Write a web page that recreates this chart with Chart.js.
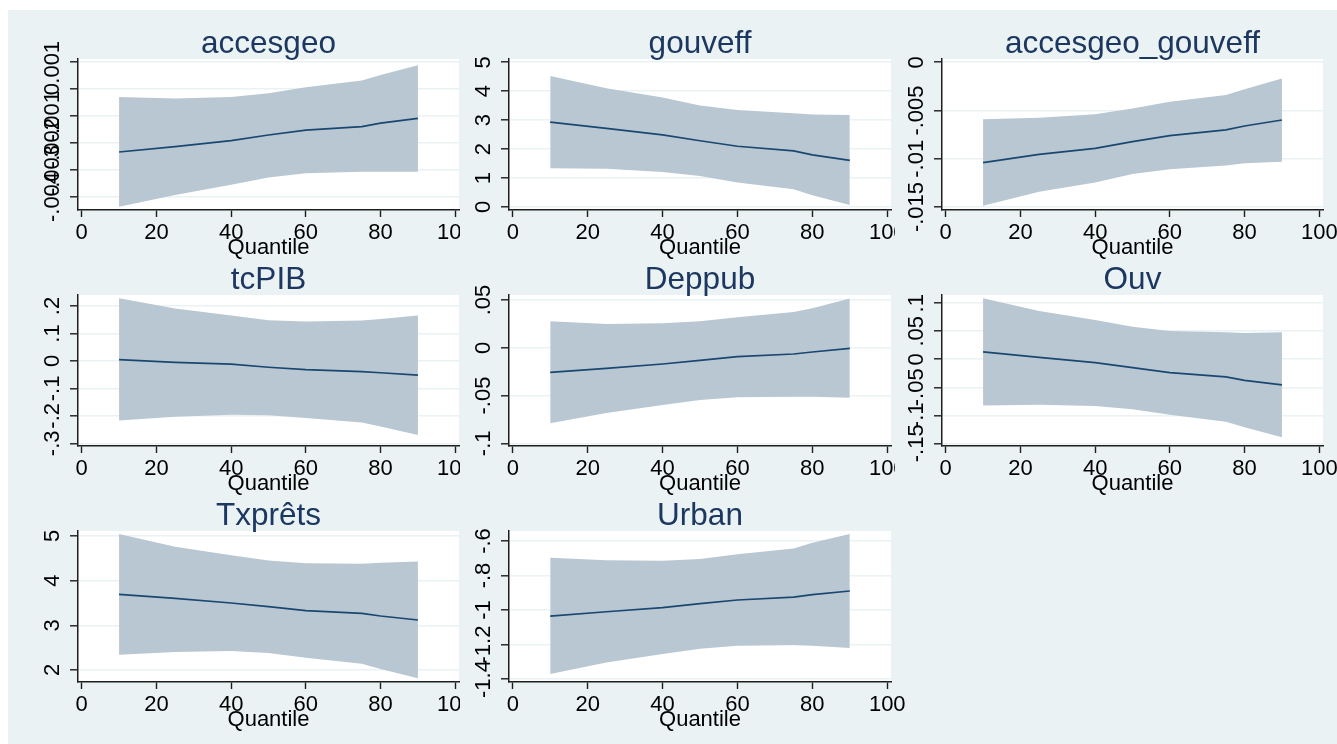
<!DOCTYPE html>
<html>
<head>
<meta charset="utf-8">
<title>Quantile coefficients</title>
<script src="https://cdn.jsdelivr.net/npm/chart.js@4/dist/chart.umd.min.js"></script>
<style>
  html, body { margin: 0; padding: 0; background: #ffffff; }
  #figure { position: absolute; left: 8px; top: 10px; width: 1329px; height: 734px; background: #eaf2f3; }
  canvas.panel { position: absolute; background: #eaf2f3; }
</style>
</head>
<body>
<div id="figure"></div>
<script>
// Quantiles at which each coefficient was estimated
const quantiles = [10, 25, 40, 50, 60, 75, 80, 90];
const quantileTicks = [0, 20, 40, 60, 80, 100];

// accesgeo
const accesgeoCoef = [-0.00233, -0.00213, -0.00191, -0.00170, -0.00152, -0.00139, -0.00126, -0.00108];
const accesgeoLow  = [-0.00436, -0.00393, -0.00355, -0.00328, -0.00312, -0.00306, -0.00306, -0.00306];
const accesgeoHigh = [-0.00029, -0.00034, -0.00029, -0.00015, 0.00007, 0.00032, 0.00053, 0.00089];
const accesgeoTicks = [-0.004, -0.003, -0.002, -0.001, 0, 0.001];
const accesgeoTickLabels = ['-.004', '-.003', '-.002', '-.001', '0', '.001'];

// gouveff
const gouveffCoef = [2.93, 2.72, 2.49, 2.29, 2.10, 1.94, 1.80, 1.61];
const gouveffLow  = [1.34, 1.32, 1.21, 1.07, 0.85, 0.61, 0.41, 0.07];
const gouveffHigh = [4.53, 4.10, 3.78, 3.51, 3.35, 3.24, 3.20, 3.18];
const gouveffTicks = [0, 1, 2, 3, 4, 5];
const gouveffTickLabels = ['0', '1', '2', '3', '4', '5'];

// accesgeo_gouveff
const interCoef = [-0.0104, -0.00954, -0.00892, -0.00822, -0.0076, -0.00701, -0.0066, -0.00598];
const interLow  = [-0.01486, -0.01341, -0.01247, -0.01158, -0.01109, -0.01071, -0.01047, -0.0103];
const interHigh = [-0.00591, -0.00574, -0.00539, -0.0048, -0.00408, -0.00339, -0.0028, -0.00169];
const interTicks = [-0.015, -0.01, -0.005, 0];
const interTickLabels = ['-.015', '-.01', '-.005', '0'];

// tcPIB
const tcpibCoef = [0.005, -0.005, -0.012, -0.023, -0.032, -0.039, -0.043, -0.052];
const tcpibLow  = [-0.217, -0.203, -0.196, -0.198, -0.208, -0.224, -0.239, -0.270];
const tcpibHigh = [0.228, 0.191, 0.165, 0.148, 0.144, 0.147, 0.153, 0.165];
const tcpibTicks = [-0.3, -0.2, -0.1, 0, 0.1, 0.2];
const tcpibTickLabels = ['-.3', '-.2', '-.1', '0', '.1', '.2'];

// Deppub
const deppubCoef = [-0.0257, -0.0215, -0.0170, -0.0132, -0.0093, -0.0065, -0.0044, -0.0006];
const deppubLow  = [-0.0791, -0.0683, -0.0599, -0.0547, -0.0519, -0.0512, -0.0512, -0.0522];
const deppubHigh = [0.0277, 0.0249, 0.0256, 0.0277, 0.0319, 0.0374, 0.0413, 0.0517];
const deppubTicks = [-0.1, -0.05, 0, 0.05];
const deppubTickLabels = ['-.1', '-.05', '0', '.05'];

// Ouv
const ouvCoef = [0.0131, 0.0036, -0.0060, -0.0149, -0.0238, -0.0315, -0.0375, -0.0458];
const ouvLow  = [-0.0827, -0.0810, -0.0833, -0.0893, -0.0988, -0.1113, -0.1214, -0.1393];
const ouvHigh = [0.1089, 0.0863, 0.0702, 0.0583, 0.0506, 0.0482, 0.0470, 0.0482];
const ouvTicks = [-0.15, -0.1, -0.05, 0, 0.05, 0.1];
const ouvTickLabels = ['-.15', '-.1', '-.05', '0', '.05', '.1'];

// Txprêts
const txpretsCoef = [3.694, 3.604, 3.500, 3.418, 3.328, 3.269, 3.209, 3.119];
const txpretsLow  = [2.343, 2.403, 2.425, 2.380, 2.276, 2.142, 2.022, 1.813];
const txpretsHigh = [5.045, 4.760, 4.570, 4.450, 4.390, 4.380, 4.400, 4.430];
const txpretsTicks = [2, 3, 4, 5];
const txpretsTickLabels = ['2', '3', '4', '5'];

// Urban
const urbanCoef = [-1.035, -1.010, -0.986, -0.963, -0.942, -0.925, -0.911, -0.890];
const urbanLow  = [-1.371, -1.305, -1.255, -1.224, -1.207, -1.203, -1.207, -1.220];
const urbanHigh = [-0.697, -0.712, -0.714, -0.704, -0.677, -0.644, -0.610, -0.559];
const urbanTicks = [-1.4, -1.2, -1, -0.8, -0.6];
const urbanTickLabels = ['-1.4', '-1.2', '-1', '-.8', '-.6'];

// Panels: grid cell plus y-axis range for each variable
const panels = [
  { title: 'accesgeo', coef: accesgeoCoef, low: accesgeoLow, high: accesgeoHigh, ticks: accesgeoTicks, labels: accesgeoTickLabels, yMin: -0.004483, yMax: 0.0011225, row: 0, col: 0 },
  { title: 'gouveff', coef: gouveffCoef, low: gouveffLow, high: gouveffHigh, ticks: gouveffTicks, labels: gouveffTickLabels, yMin: -0.1037, yMax: 5.114, row: 0, col: 1 },
  { title: 'accesgeo_gouveff', coef: interCoef, low: interLow, high: interHigh, ticks: interTicks, labels: interTickLabels, yMin: -0.015311, yMax: 0.000342, row: 0, col: 2 },
  { title: 'tcPIB', coef: tcpibCoef, low: tcpibLow, high: tcpibHigh, ticks: tcpibTicks, labels: tcpibTickLabels, yMin: -0.30983, yMax: 0.24006, row: 1, col: 0 },
  { title: 'Deppub', coef: deppubCoef, low: deppubLow, high: deppubHigh, ticks: deppubTicks, labels: deppubTickLabels, yMin: -0.102826, yMax: 0.055234, row: 1, col: 1 },
  { title: 'Ouv', coef: ouvCoef, low: ouvLow, high: ouvHigh, ticks: ouvTicks, labels: ouvTickLabels, yMin: -0.15482, yMax: 0.11482, row: 1, col: 2 },
  { title: 'Txprêts', coef: txpretsCoef, low: txpretsLow, high: txpretsHigh, ticks: txpretsTicks, labels: txpretsTickLabels, yMin: 1.7313, yMax: 5.1119, row: 2, col: 0 },
  { title: 'Urban', coef: urbanCoef, low: urbanLow, high: urbanHigh, ticks: urbanTicks, labels: urbanTickLabels, yMin: -1.41739, yMax: -0.54203, row: 2, col: 1 }
];

// Page geometry of the grid
const columns = [
  { left: 8,   width: 452, axisWidth: 70, rightPad: 1 },
  { left: 460, width: 435, axisWidth: 49, rightPad: 4 },
  { left: 895, width: 442, axisWidth: 47, rightPad: 14 }
];
const OPEN_RIGHT_EXTRA = 40;   // a panel with no neighbour on its right keeps its full last label
const rowPlotTops = [59, 295, 531];
const TITLE_BLOCK = 36;
const PLOT_HEIGHT = 151;
const XAXIS_HEIGHT = 49;
const BOTTOM_PAD = 1;

const FONT = '"Liberation Sans", Arial, Helvetica, sans-serif';
const REGION_BG = '#eaf2f3';
const BAND = '#b9c7d3';
const LINE = '#1a476f';
const TITLE_COLOR = '#1c3760';
const AXIS_COLOR = '#1e1e1e';
const TICK_SIZE = 22;
const TITLE_SIZE = 31.5;
const TICK_LEN = 8;
const LABEL_GAP = 25.5; // distance from the y axis line to the centre of its rotated labels

Chart.defaults.font.family = FONT;

const measureCtx = document.createElement('canvas').getContext('2d');
function widestLabel(labels) {
  measureCtx.font = TICK_SIZE + 'px ' + FONT;
  return Math.max(...labels.map(l => measureCtx.measureText(l).width));
}

const plotBackground = {
  id: 'plotBackground',
  beforeDraw(chart) {
    const { ctx, chartArea: a } = chart;
    ctx.save();
    ctx.fillStyle = REGION_BG;
    ctx.fillRect(0, 0, chart.width, chart.height);
    ctx.fillStyle = '#ffffff';
    ctx.fillRect(a.left, a.top, a.right - a.left, a.bottom - a.top);
    ctx.restore();
  }
};

panels.forEach(p => {
  const col = columns[p.col];
  const hasRightNeighbour = panels.some(o => o.row === p.row && o.col === p.col + 1);
  const extra = (hasRightNeighbour || p.col === columns.length - 1) ? 0 : OPEN_RIGHT_EXTRA;
  const width = col.width + extra;
  const rightPad = col.rightPad + extra;
  const top = rowPlotTops[p.row] - TITLE_BLOCK;
  const height = TITLE_BLOCK + PLOT_HEIGHT + XAXIS_HEIGHT + BOTTOM_PAD;

  const canvas = document.createElement('canvas');
  canvas.className = 'panel';
  canvas.width = width;
  canvas.height = height;
  canvas.style.left = col.left + 'px';
  canvas.style.top = top + 'px';
  canvas.style.width = width + 'px';
  canvas.style.height = height + 'px';
  document.body.appendChild(canvas);

  const pts = arr => quantiles.map((q, i) => ({ x: q, y: arr[i] }));
  const yPad = LABEL_GAP - TICK_LEN - widestLabel(p.labels) / 2;

  new Chart(canvas, {
    type: 'line',
    data: {
      datasets: [
        { data: pts(p.coef), borderColor: LINE, borderWidth: 1.7, pointRadius: 0, tension: 0, fill: false },
        { data: pts(p.high), borderWidth: 0, borderColor: 'rgba(0,0,0,0)', pointRadius: 0, tension: 0, fill: '+1', backgroundColor: BAND },
        { data: pts(p.low), borderWidth: 0, borderColor: 'rgba(0,0,0,0)', pointRadius: 0, tension: 0, fill: false }
      ]
    },
    options: {
      responsive: false,
      animation: false,
      devicePixelRatio: 1,
      layout: { padding: { left: 0, right: rightPad, top: 0, bottom: BOTTOM_PAD } },
      plugins: {
        legend: { display: false },
        tooltip: { enabled: false },
        title: {
          display: true,
          text: p.title,
          fullSize: false,
          color: TITLE_COLOR,
          font: { size: TITLE_SIZE, weight: 'normal', family: FONT, lineHeight: 1 },
          padding: { top: 6, bottom: TITLE_BLOCK - 6 - TITLE_SIZE }
        }
      },
      scales: {
        x: {
          type: 'linear',
          min: -1,
          max: 101,
          afterBuildTicks: s => { s.ticks = quantileTicks.map(v => ({ value: v })); },
          afterFit: s => { s.height = XAXIS_HEIGHT; s.paddingLeft = 0; s.paddingRight = 0; },
          ticks: {
            autoSkip: false,
            maxRotation: 0,
            padding: 3,
            color: '#000',
            font: { size: TICK_SIZE, family: FONT, lineHeight: 1.2 },
            callback: v => String(v)
          },
          grid: { drawOnChartArea: false, drawTicks: true, tickLength: 7, tickColor: AXIS_COLOR, tickWidth: 1.4 },
          border: { display: true, color: AXIS_COLOR, width: 1.5 },
          title: {
            display: true,
            text: 'Quantile',
            color: '#000',
            font: { size: TICK_SIZE, family: FONT, lineHeight: 1 },
            padding: { top: 0, bottom: 0 }
          }
        },
        y: {
          type: 'linear',
          min: p.yMin,
          max: p.yMax,
          afterBuildTicks: s => { s.ticks = p.ticks.map(v => ({ value: v })); },
          afterFit: s => { s.width = col.axisWidth; s.paddingTop = 0; s.paddingBottom = 0; },
          ticks: {
            autoSkip: false,
            minRotation: 90,
            maxRotation: 90,
            crossAlign: 'center',
            padding: yPad,
            color: '#000',
            font: { size: TICK_SIZE, family: FONT, lineHeight: 1.2 },
            callback: (v, i) => p.labels[i]
          },
          grid: { color: REGION_BG, lineWidth: 1.6, drawTicks: true, tickLength: TICK_LEN, tickColor: AXIS_COLOR, tickWidth: 1.4 },
          border: { display: true, color: AXIS_COLOR, width: 1.5 }
        }
      }
    },
    plugins: [plotBackground]
  });
});
</script>
</body>
</html>
